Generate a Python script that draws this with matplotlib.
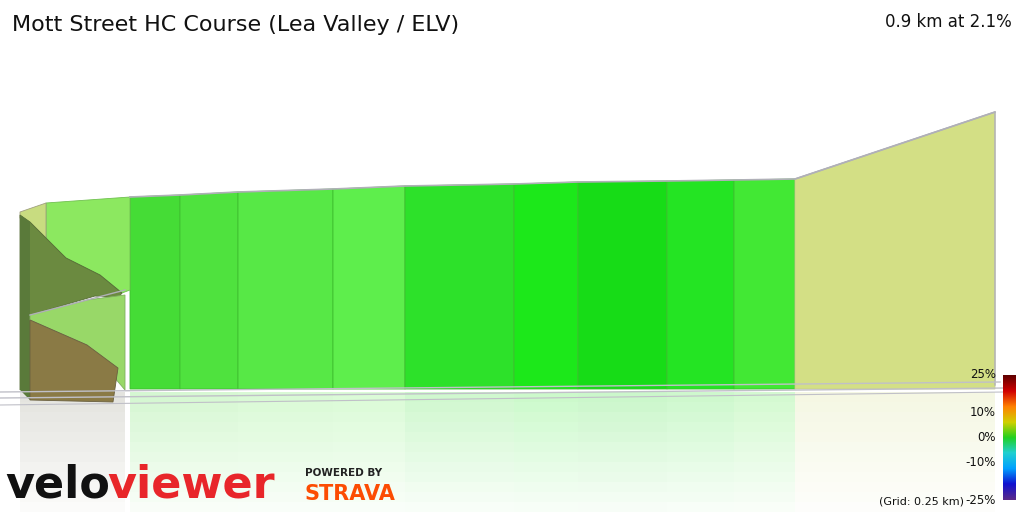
import matplotlib
matplotlib.use("Agg")
import matplotlib.pyplot as plt
import numpy as np
from matplotlib.colors import LinearSegmentedColormap

title = "Mott Street HC Course (Lea Valley / ELV)"
summary = "0.9 km at 2.1%"
# segment boundaries (screen-projected distance) and top heights
xb = [130, 180, 238, 333, 405, 514, 578, 667, 734, 795, 995]
tops = [197, 195, 192, 189, 186, 184, 182, 181, 180, 179, 112]
bottoms = [389, 389, 389, 389, 389, 389, 389, 389, 389, 389, 385]
colors = ["#45dc36", "#4fe23e", "#57e846", "#5eee4c", "#2de12a", "#1ce81a",
          "#17dc17", "#24e423", "#42e834", "#d3df85"]
cb_ticks = [25, 10, 0, -10, -25]

fig = plt.figure(figsize=(10.24, 5.12), dpi=100)
ax = fig.add_axes([0, 0, 1, 1])
ax.set_xlim(0, 1024); ax.set_ylim(512, 0); ax.axis("off")

# reflection (fading bands)
nb = 12
edges = np.linspace(392, 512, nb + 1)
for k in range(nb):
    a = 0.07 * (1 - k / nb) + 0.005
    for i in range(len(colors)):
        ax.fill_between([xb[i], xb[i+1]], edges[k], edges[k+1], color=colors[i], alpha=a * 3, lw=0)
    ax.fill_between([20, 125], edges[k], edges[k+1], color="#8a8a70", alpha=a * 3, lw=0)

# main segments
for i in range(len(colors)):
    xs = [xb[i], xb[i+1], xb[i+1], xb[i]]
    ys = [tops[i], tops[i+1], bottoms[i], bottoms[i]]
    ax.fill(xs, ys, color=colors[i], ec="#3fbf30" if i < 9 else "#c8cc90", lw=0.6)
ax.plot(xb, tops, color="#b0b0b8", lw=1.2)
ax.plot([795, 995, 995], [179, 112, 385], color="#b0b0b8", lw=1)

# curled start section
ax.fill([46, 130, 130, 122, 100, 66, 46], [203, 197, 290, 293, 275, 258, 240], color="#8ce860", ec="#70c050", lw=0.6)
ax.fill([20, 46, 46, 20], [212, 203, 240, 218], color="#c8dc80", ec="#a0a080", lw=0.6)
ax.fill([20, 30, 66, 100, 122, 118, 95, 30, 20], [215, 222, 258, 275, 293, 298, 296, 315, 390], color="#6b8a40", ec="#556b35", lw=0.6)
ax.fill([20, 30, 30, 20], [215, 222, 400, 390], color="#5a7a3a", lw=0)
ax.fill([30, 87, 125, 125, 87, 30], [315, 300, 295, 390, 345, 320], color="#98d868", ec="#80b060", lw=0.6)
ax.fill([30, 87, 118, 113, 30], [320, 345, 368, 402, 400], color="#8a7a45", ec="#6a6040", lw=0.6)
ax.plot([30, 125], [315, 290], color="#b0b0b8", lw=1)

# ground lines
ax.plot([0, 1000], [392, 382], color="#c0c0c8", lw=1)
ax.plot([0, 1005], [398, 388], color="#c0c0c8", lw=1)
ax.plot([0, 1005], [405, 392], color="#c0c0c8", lw=0.8)

ax.text(12, 25, title, fontsize=16, va="center", ha="left", color="#111")
ax.text(1012, 22, summary, fontsize=12, va="center", ha="right", color="#111")

# colorbar
cmap = LinearSegmentedColormap.from_list("g", ["#5a2a8a", "#1010d0", "#00a0ff", "#20d0d0", "#20d020", "#d0d000", "#ff8000", "#d00000", "#600000"])
grad = np.linspace(1, 0, 128)[:, None]
ax.imshow(grad, cmap=cmap, extent=[1003, 1016, 500, 375], aspect="auto", zorder=5)
for v in cb_ticks:
    y = 375 + (25 - v) / 50 * 125
    ax.text(996, y, f"{v}%", fontsize=8.5, ha="right", va="center", color="#111")
ax.text(964, 501, "(Grid: 0.25 km)", fontsize=8, ha="right", va="center", color="#111")

# logos
ax.text(5, 485, "velo", fontsize=32, fontweight="bold", color="#111", va="center", ha="left")
ax.text(107, 485, "viewer", fontsize=32, fontweight="bold", color="#e8262a", va="center", ha="left")
ax.text(305, 473, "POWERED BY", fontsize=7.5, fontweight="bold", color="#222", va="center")
ax.text(304, 494, "STRAVA", fontsize=15, fontweight="bold", color="#fc4c02", va="center")

fig.savefig("out.png", dpi=100)
